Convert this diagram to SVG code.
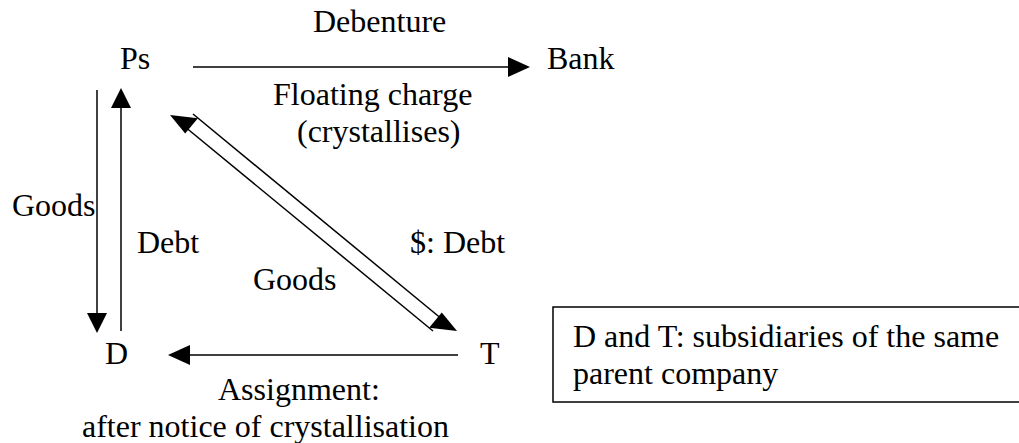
<svg xmlns="http://www.w3.org/2000/svg" width="1019" height="443" viewBox="0 0 1019 443">
<style>
text{font-family:"Liberation Serif","Times New Roman",serif;font-size:32px;fill:#000}
.ln{stroke:#000;stroke-width:1.5;fill:none}
.ah{fill:#000;stroke:none}
</style>
<rect width="1019" height="443" fill="#fff"/>
<g id="node-ps"><text x="120" y="69">Ps</text></g>
<g id="node-bank"><text x="547" y="69">Bank</text></g>
<g id="node-d"><text x="105" y="364">D</text></g>
<g id="node-t"><text x="480" y="364">T</text></g>
<g id="note"><rect class="ln" x="553" y="307" width="480" height="95"/><text x="573" y="347">D and T: subsidiaries of the same</text><text x="573" y="384">parent company</text></g>
<g id="connectors">
<line class="ln" x1="193" y1="67" x2="510" y2="67"/><polygon class="ah" points="530,67 508,57 508,77"/>
<line class="ln" x1="97" y1="90" x2="97" y2="315"/><polygon class="ah" points="97,333 87,313 107,313"/>
<line class="ln" x1="121" y1="331" x2="121" y2="106"/><polygon class="ah" points="121,88 111,108 131,108"/>
<line class="ln" x1="433" y1="331" x2="184" y2="126"/><polygon class="ah" points="170,115 185.2,133.6 197.9,118.2"/>
<line class="ln" x1="193" y1="114" x2="443" y2="320"/><polygon class="ah" points="457,331 441.8,312.4 429.1,327.8"/>
<line class="ln" x1="458" y1="355" x2="188" y2="355"/><polygon class="ah" points="168,355 190,345 190,365"/>
</g>
<g id="labels">
<text x="313" y="32">Debenture</text>
<text x="273" y="105">Floating charge</text>
<text x="297" y="142">(crystallises)</text>
<text x="12" y="216">Goods</text>
<text x="137" y="253">Debt</text>
<text x="410" y="253">$: Debt</text>
<text x="253" y="290">Goods</text>
<text x="218" y="400">Assignment:</text>
<text x="82" y="437">after notice of crystallisation</text>
</g>
</svg>
